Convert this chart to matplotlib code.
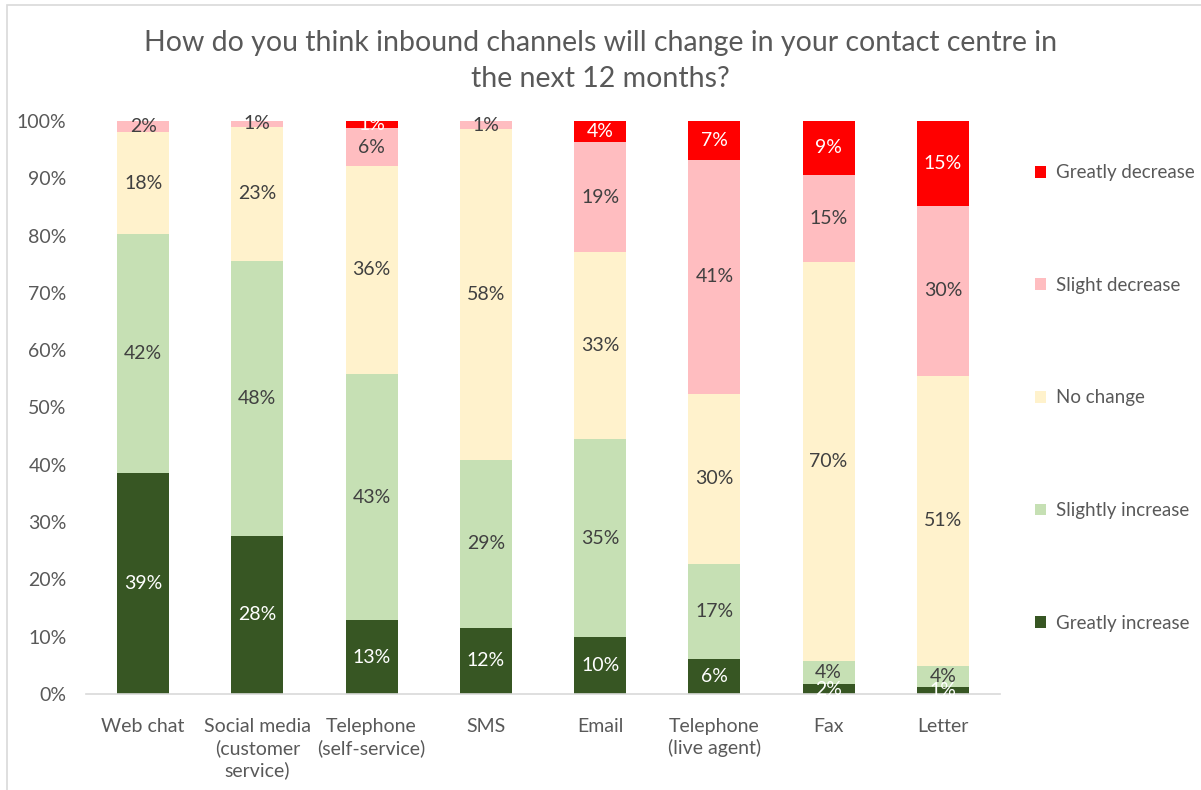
import numpy as np
import matplotlib
matplotlib.use("Agg")
import matplotlib.pyplot as plt
from matplotlib.patches import Patch, Rectangle

plt.rcParams["font.family"] = ["Lato", "DejaVu Sans"]

# ── data (percent of respondents) ─────────────────────────────
channels = ["Web chat", "Social media\n(customer\nservice)", "Telephone\n(self-service)",
            "SMS", "Email", "Telephone\n(live agent)", "Fax", "Letter"]
greatly_increase  = [38.6, 27.6, 12.9, 11.6,  9.9,  6.1,  1.7,  1.2]
slightly_increase = [41.6, 48.0, 42.9, 29.2, 34.6, 16.6,  4.1,  3.7]
no_change         = [17.9, 23.4, 36.4, 57.8, 32.6, 29.7, 69.6, 50.6]
slight_decrease   = [ 1.9,  1.0,  6.5,  1.4, 19.2, 40.8, 15.2, 29.7]
greatly_decrease  = [ 0.0,  0.0,  1.3,  0.0,  3.7,  6.8,  9.4, 14.8]

series = [
    ("Greatly increase",  greatly_increase,  "#375623", "white"),
    ("Slightly increase", slightly_increase, "#C6E0B4", "#404040"),
    ("No change",         no_change,         "#FFF2CC", "#404040"),
    ("Slight decrease",   slight_decrease,   "#FFBDC0", "#404040"),
    ("Greatly decrease",  greatly_decrease,  "#FF0000", "white"),
]

fig = plt.figure(figsize=(12.01, 7.9), dpi=100)
ax = fig.add_axes([86 / 1201, 1 - 694 / 790, 914 / 1201, 573 / 790])

x = np.arange(len(channels))
bottom = np.zeros(len(channels))
for name, vals, color, tcol in series:
    vals = np.array(vals)
    ax.bar(x, vals, bottom=bottom, width=0.455, color=color, label=name)
    for xi, b, v in zip(x, bottom, vals):
        if v > 0.5:
            ax.text(xi, b + v / 2, f"{v:.0f}%", ha="center", va="center",
                    fontsize=14, color=tcol)
    bottom += vals

ax.set_xlim(-0.5, len(channels) - 0.5)
ax.set_ylim(0, 100)
ax.set_yticks(np.arange(0, 101, 10))
ax.set_yticklabels([f"{v}%" for v in range(0, 101, 10)])
ax.set_xticks(x)
ax.set_xticklabels(channels, linespacing=1.3)
ax.tick_params(axis="both", length=0, labelsize=14, colors="#595959")
ax.tick_params(axis="y", pad=14)
ax.tick_params(axis="x", pad=17)
for s in ["top", "right", "left"]:
    ax.spines[s].set_visible(False)
ax.spines["bottom"].set_color("#D9D9D9")
ax.spines["bottom"].set_linewidth(1.2)

fig.text(0.5, 1 - 61 / 790, "How do you think inbound channels will change in your contact centre in\nthe next 12 months?",
         ha="center", va="center", fontsize=20.5, color="#595959", linespacing=1.45)

# legend, top entry = last series
handles = [Patch(facecolor=c, edgecolor="none") for _, _, c, _ in series[::-1]]
labels = [n for n, _, _, _ in series[::-1]]
leg = fig.legend(handles, labels, loc="center left", bbox_to_anchor=(1018 / 1201, 1 - 398 / 790),
                 frameon=False, fontsize=13.5, labelspacing=5.1, handlelength=0.6,
                 handleheight=0.6, handletextpad=0.5, labelcolor="#595959")

# chart border
fig.patches.append(Rectangle((7 / 1201, -0.01), 1.2, 1 - 5 / 790 + 0.01, transform=fig.transFigure,
                             fill=False, edgecolor="#D9D9D9", linewidth=1.2))

fig.savefig("out.png", dpi=100)
